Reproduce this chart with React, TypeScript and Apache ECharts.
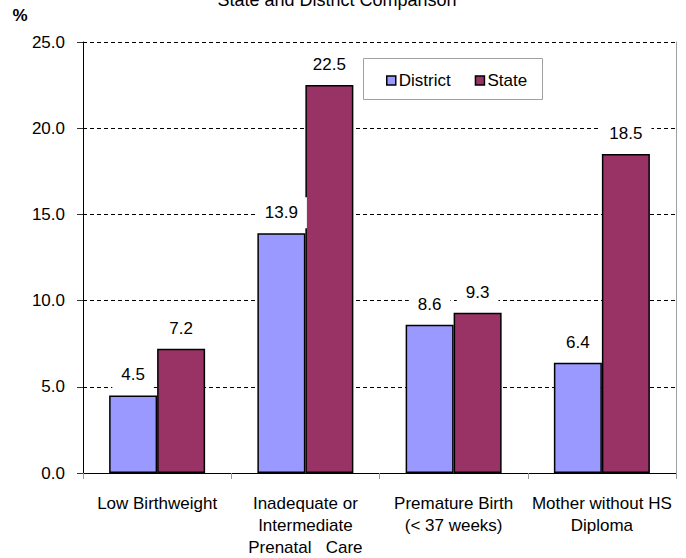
import React, { useEffect, useRef } from "react";
import * as echarts from "echarts";

const categories = [
  "Low Birthweight",
  "Inadequate or\nIntermediate\nPrenatal   Care",
  "Premature Birth\n(< 37 weeks)",
  "Mother without HS\nDiploma",
];
const districtValues = [4.5, 13.9, 8.6, 6.4];
const stateValues = [7.2, 22.5, 9.3, 18.5];
const yTicks = { min: 0, max: 25, interval: 5 };

const FONT = "Arial, 'Liberation Sans', sans-serif";

export default function App() {
  const ref = useRef<HTMLDivElement>(null);
  useEffect(() => {
    document.body.style.margin = "0";
    const chart = echarts.init(ref.current!, null, { renderer: "svg" });
    const label = {
      show: true,
      position: "top",
      distance: 5,
      formatter: (p: any) => Number(p.value).toFixed(1),
      color: "#000",
      fontSize: 17,
      fontFamily: FONT,
      backgroundColor: "#fff",
      padding: [7, 9],
    };
    chart.setOption({
      animation: false,
      textStyle: { fontFamily: FONT },
      grid: { left: 83, right: 10, top: 42, bottom: 81, containLabel: false },
      legend: {
        left: 386,
        top: 72,
        padding: 0,
        z: 200,
        itemWidth: 9,
        itemHeight: 9,
        itemGap: 24,
        icon: "rect",
        data: ["District", "State"],
        textStyle: { fontSize: 17, color: "#000", fontFamily: FONT, padding: [0, 0, 0, -2] },
        itemStyle: { borderColor: "#000", borderWidth: 1.5 },
      },
      graphic: [
        {
          type: "rect",
          shape: { x: 363.5, y: 58.5, width: 179, height: 41 },
          style: { fill: "#fff", stroke: "#a0a0a0", lineWidth: 1 },
          z: 50,
        },
        {
          type: "text",
          x: 337,
          y: 0,
          style: {
            text: "State and District Comparison",
            font: `18px ${FONT}`,
            fill: "#000",
            textAlign: "center",
            textVerticalAlign: "middle",
          },
        },
        {
          type: "text",
          x: 20,
          y: 15,
          style: {
            text: "%",
            font: `bold 17px ${FONT}`,
            fill: "#000",
            textAlign: "center",
            textVerticalAlign: "middle",
          },
        },
      ],
      xAxis: {
        type: "category",
        data: categories,
        axisLine: { lineStyle: { color: "#000", width: 1 } },
        axisTick: { show: true, length: 6, lineStyle: { color: "#999" } },
        axisLabel: {
          color: "#000",
          fontSize: 17,
          fontFamily: FONT,
          margin: 19,
          lineHeight: 22,
          interval: 0,
        },
      },
      yAxis: [
        {
          type: "value",
          min: yTicks.min,
          max: yTicks.max,
          interval: yTicks.interval,
          axisLine: { show: true, lineStyle: { color: "#000", width: 1 } },
          axisTick: { show: true, length: 6, lineStyle: { color: "#333" } },
          axisLabel: {
            color: "#000",
            fontSize: 17,
            fontFamily: FONT,
            margin: 18,
            formatter: (v: number) => v.toFixed(1),
          },
          splitLine: {
            show: true,
            lineStyle: { color: "#000", type: [4, 3], width: 1 },
          },
        },
        {
          type: "value",
          position: "right",
          min: yTicks.min,
          max: yTicks.max,
          interval: yTicks.interval,
          axisLine: { show: true, lineStyle: { color: "#a0a0a0", width: 1 } },
          axisTick: { show: false },
          axisLabel: { show: false },
          splitLine: { show: false },
        },
      ],
      series: [
        {
          name: "District",
          type: "bar",
          data: districtValues,
          barWidth: 48,
          barGap: "0%",
          itemStyle: { color: "#9999FF", borderColor: "#000", borderWidth: 1.5 },
          label,
          z: 2,
        },
        {
          name: "State",
          type: "bar",
          data: stateValues,
          barWidth: 48,
          barGap: "0%",
          itemStyle: { color: "#993366", borderColor: "#000", borderWidth: 1.5 },
          label,
          z: 2,
        },
      ],
    });
    return () => chart.dispose();
  }, []);
  return <div ref={ref} style={{ width: 686, height: 558 }} />;
}
